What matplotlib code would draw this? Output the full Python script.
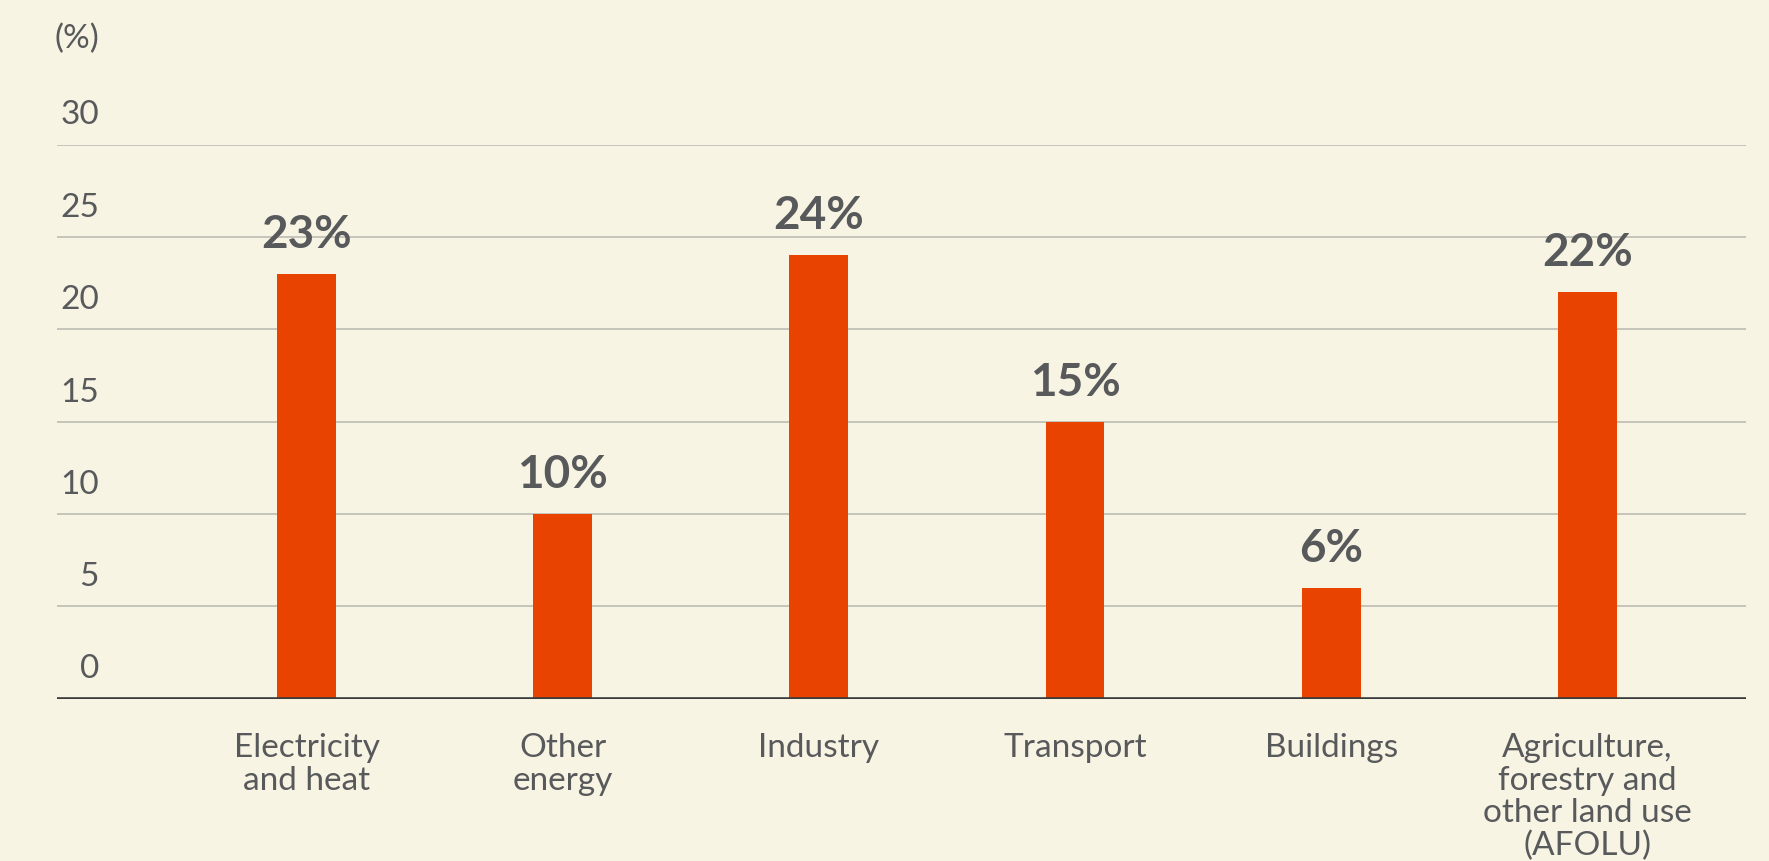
import numpy as np
import matplotlib.pyplot as plt
from matplotlib.transforms import offset_copy

# Share of emissions by sector
sectors = ['Electricity\nand heat', 'Other\nenergy', 'Industry', 'Transport',
           'Buildings', 'Agriculture,\nforestry and\nother land use\n(AFOLU)']
shares = [23, 10, 24, 15, 6, 22]
yticks = [0, 5, 10, 15, 20, 25, 30]

bg = '#F8F4E4'
bar_color = '#E84300'
text_color = '#58595B'

plt.rcParams['font.family'] = ['Lato', 'DejaVu Sans']

W, H, dpi = 1769, 862, 100
fig = plt.figure(figsize=(W / dpi, H / dpi), dpi=dpi, facecolor=bg)
left, right, top, bottom = 57, 1746, 145.5, 699.5
ax = fig.add_axes([left / W, 1 - bottom / H, (right - left) / W, (bottom - top) / H])
ax.set_facecolor(bg)

x = np.arange(len(sectors))
ax.bar(x, shares, width=0.23, color=bar_color, zorder=3)

ax.set_xlim(-0.975, 5.62)
ax.set_ylim(0, 30)

# horizontal grid and a heavier baseline
for v in yticks[1:]:
    ax.axhline(v, color='#B8B7B0', lw=1.1, zorder=1)
ax.axhline(0, color='#3A3A3A', lw=2.6, zorder=4)

for s in ax.spines.values():
    s.set_visible(False)
ax.set_xticks([])
ax.set_yticks([])

# y labels sit above their gridline
for v in yticks:
    tr = offset_copy(ax.get_yaxis_transform(), fig=fig, x=42, y=30, units='dots')
    ax.text(0, v, str(v), transform=tr, ha='right', va='center',
            fontsize=24, color=text_color, clip_on=False)
fig.text(54 / W, 1 - 39 / H, '(%)', ha='left', va='center', fontsize=24, color=text_color)

# value labels above the bars
for xi, v in zip(x, shares):
    tr = offset_copy(ax.transData, fig=fig, x=0, y=27, units='dots')
    ax.text(xi, v, f'{v}%', transform=tr, ha='center', va='baseline',
            fontsize=33, fontweight='bold', color=text_color)

# category labels under the axis
for xi, name in zip(x, sectors):
    tr = offset_copy(ax.get_xaxis_transform(), fig=fig, x=0, y=-34, units='dots')
    ax.text(xi, 0, name, transform=tr, ha='center', va='top', fontsize=24,
            color=text_color, linespacing=1.1, clip_on=False)

fig.savefig('out.png', dpi=dpi, facecolor=bg)
